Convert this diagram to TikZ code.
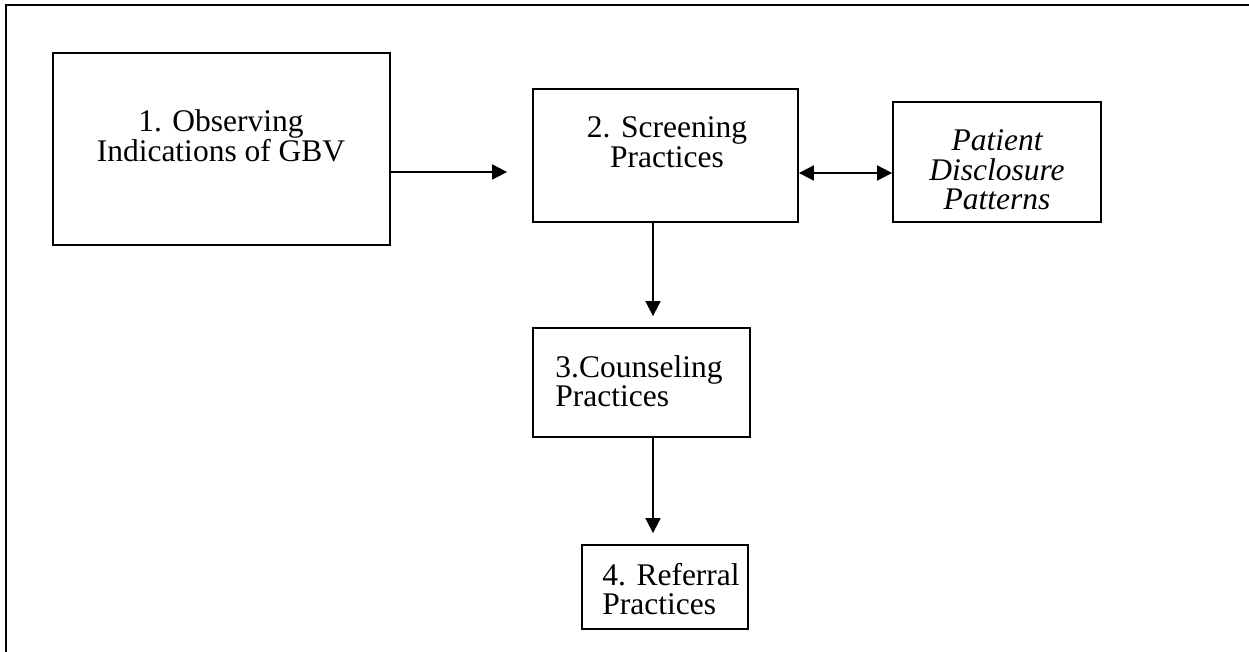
\documentclass[tikz,border=0pt]{standalone}
\usepackage{fontspec}
\setmainfont{Liberation Serif}
\usetikzlibrary{positioning,arrows.meta}

\tikzset{
  stagebox/.style={draw, line width=0.9pt, inner sep=0pt},
  stagetext/.style={font=\fontsize{15.75}{14.75}\selectfont, inner sep=0pt},
  link/.style={line width=0.9pt, -{Triangle[length=7.5pt,width=7.5pt]}},
  twoway/.style={line width=0.9pt, {Triangle[length=7.5pt,width=7.5pt]}-{Triangle[length=7.5pt,width=7.5pt]}},
}

\begin{document}
\begin{tikzpicture}[x=0.5pt, y=-0.5pt]
\useasboundingbox (0,0) rectangle (1249,652);
% Frame
				\draw[line width=1.1pt] (6,652) -- (6,5) -- (1249,5);
% Boxes
				\node[stagebox, minimum width=168.5pt, minimum height=96pt] (observe) at (221.5,149) {};
				\node[stagebox, minimum width=132.5pt, minimum height=66.5pt] (screen) at (665.5,155.5) {};
				\node[stagebox, minimum width=104pt, minimum height=60pt] (disclose) at (997,162) {};
				\node[stagebox, minimum width=108.5pt, minimum height=54.5pt] (counsel) at (641.5,382.5) {};
				\node[stagebox, minimum width=83pt, minimum height=42pt] (refer) at (665,587) {};
% Labels
				\node[stagetext, align=center] (observe text) at (221,136) {1. Observing\\Indications of GBV};
				\node[stagetext, align=center] (screen text) at (667,142) {2. Screening\\Practices};
				\node[stagetext, align=center, font=\fontsize{15.75}{14.75}\selectfont\itshape] (disclose text) at (997,170) {Patient\\Disclosure\\Patterns};
				\node[stagetext, align=left, anchor=west] (counsel text) at (555,381) {3.Counseling\\Practices};
				\node[stagetext, align=left, anchor=west] (refer text) at (602,589) {4. Referral\\Practices};
% Arrows
				\draw[link, shorten >=12.5pt] (observe.east |- 0,172) -- (screen.west |- 0,172);
				\draw[twoway] (screen.east |- 0,173) -- (disclose.west |- 0,173);
				\draw[link, shorten >=5.5pt] (screen.south -| 653,0) -- (counsel.north -| 653,0);
				\draw[link, shorten >=5.5pt] (counsel.south -| 653,0) -- (refer.north -| 653,0);
\end{tikzpicture}
\end{document}
